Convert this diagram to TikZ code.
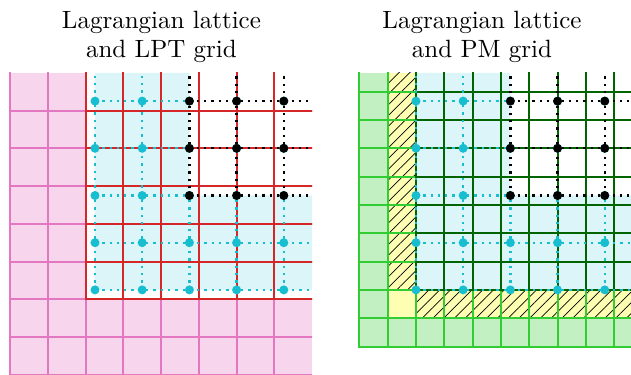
\documentclass[tikz,border=0pt]{standalone}
\usetikzlibrary{patterns.meta}
\definecolor{pinkline}{HTML}{E377C2}
\definecolor{pinkfill}{HTML}{F7D6ED}
\definecolor{lptred}{HTML}{D62728}
\definecolor{lagcyan}{HTML}{17BECF}
\definecolor{cyanfill}{HTML}{DCF5F8}
\definecolor{limeline}{HTML}{32CD32}
\definecolor{limefill}{HTML}{C2F0C2}
\definecolor{pmgreen}{HTML}{006400}
\definecolor{yelfill}{HTML}{FFFFB3}
\newcommand{\lagLattice}{%
  \fill[cyanfill] (0,0) -- (4.6,0) -- (4.6,2) -- (2,2) -- (2,4.6) -- (0,4.6) -- cycle;
}
\newcommand{\lagPoints}{%
  \foreach \k in {0,1} {
    \draw[latline,lagcyan] (\k,0) -- (\k,4.6);
    \draw[latline,lagcyan] (0,\k) -- (4.6,\k);
  }
  \foreach \k in {2,3,4} {
    \draw[latline,lagcyan] (\k,0) -- (\k,2);
    \draw[latline,lagcyan] (0,\k) -- (2,\k);
    \draw[latline,black] (\k,2) -- (\k,4.6);
    \draw[latline,black] (2,\k) -- (4.6,\k);
  }
  \foreach \i in {0,...,4} {
    \foreach \j in {0,...,4} {
      \fill[lagcyan] (\i,\j) circle[radius=4.5pt];
    }
  }
  \foreach \i in {2,3,4} {
    \foreach \j in {2,3,4} {
      \fill[black] (\i,\j) circle[radius=4.5pt];
    }
  }
}
\begin{document}
\begin{tikzpicture}[x=47.2pt,y=47.2pt,
  gridline/.style={line width=2pt, line cap=rect},
  latline/.style={line width=2.3pt, dash pattern=on 2.3pt off 5pt},
  hatchfill/.style={pattern={Lines[angle=45,distance=7.6pt,line width=0.7pt]}, pattern color=black},
  titletext/.style={font=\fontsize{10}{11.6}\selectfont, align=center, inner sep=0pt, scale=2.5, transform shape}]
\useasboundingbox (-2.0127,-1.803) rectangle (11.356,6.142);

% ---------- left panel: Lagrangian lattice and LPT grid
\begin{scope}
  \clip (-1.85,-1.85) rectangle (4.6,4.6);
  \fill[pinkfill] (-1.8,-1.8) rectangle (4.6,4.6);
  \foreach \k in {0,...,7} {
    \draw[pinkline,gridline] ({-1.8+0.8*\k},-1.8) -- ({-1.8+0.8*\k},4.7);
    \draw[pinkline,gridline] (-1.8,{-1.8+0.8*\k}) -- (4.7,{-1.8+0.8*\k});
  }
  \fill[white] (-0.2,-0.2) rectangle (4.6,4.6);
  \lagLattice
  \foreach \k in {0,...,5} {
    \draw[lptred,gridline] ({-0.2+0.8*\k},-0.2) -- ({-0.2+0.8*\k},4.7);
    \draw[lptred,gridline] (-0.2,{-0.2+0.8*\k}) -- (4.7,{-0.2+0.8*\k});
  }
  \lagPoints
\end{scope}

% ---------- right panel: Lagrangian lattice and PM grid
\begin{scope}[shift={(6.8,0)}]
  \clip (-1.25,-1.25) rectangle (4.6,4.6);
  \fill[limefill] (-1.2,-1.2) rectangle (4.6,4.6);
  \fill[yelfill] (-0.6,-0.6) rectangle (4.6,4.6);
  \fill[hatchfill] (-0.6,0) rectangle (0,4.6);
  \fill[hatchfill] (0,-0.6) rectangle (4.6,0);
  \foreach \k in {0,...,9} {
    \draw[limeline,gridline] ({-1.2+0.6*\k},-1.2) -- ({-1.2+0.6*\k},4.7);
    \draw[limeline,gridline] (-1.2,{-1.2+0.6*\k}) -- (4.7,{-1.2+0.6*\k});
  }
  \fill[white] (0,0) rectangle (4.6,4.6);
  \lagLattice
  \foreach \k in {0,...,7} {
    \draw[pmgreen,gridline] ({0.6*\k},0) -- ({0.6*\k},4.7);
    \draw[pmgreen,gridline] (0,{0.6*\k}) -- (4.7,{0.6*\k});
  }
  \lagPoints
\end{scope}

% ---------- titles
\node[titletext] (titleLPT) at (1.407,5.353) {Lagrangian lattice\\and LPT grid};
\node[titletext] (titlePM) at (8.199,5.353) {Lagrangian lattice\\and PM grid};
\end{tikzpicture}
\end{document}
